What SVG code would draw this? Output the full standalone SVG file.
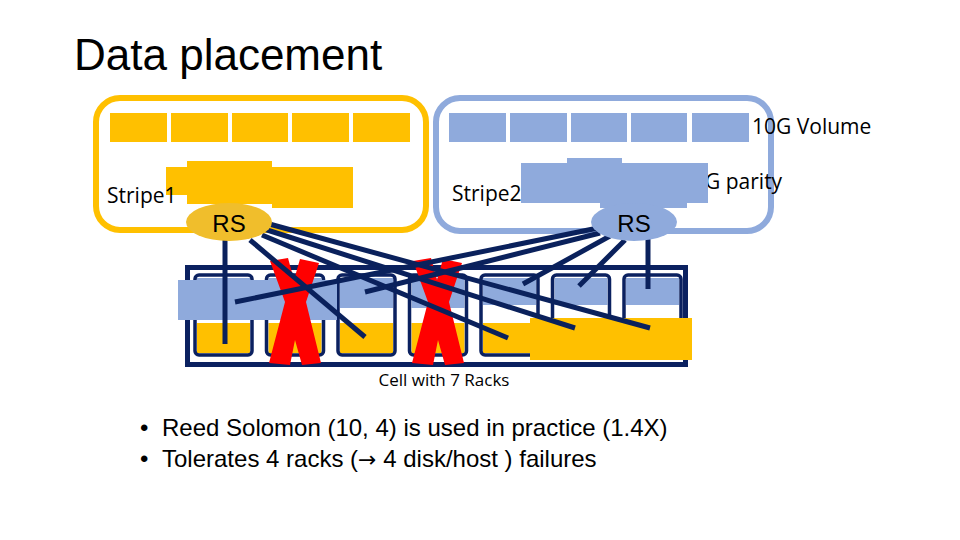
<svg xmlns="http://www.w3.org/2000/svg" width="960" height="540" viewBox="0 0 960 540">
<defs>
<style>
.ybk{fill:#FFC000}
.bbk{fill:#8FAADC}
.lbl{font-family:"Open Sans","Noto Sans",sans-serif;fill:#000}
.rs{font-family:"Liberation Sans",Arial,sans-serif;font-size:24px;fill:#000;text-anchor:middle}
.rack{fill:none;stroke:#0B2160;stroke-width:3.5}
.ln{stroke:#0A215C;stroke-width:5;fill:none}
.x{fill:#FF0000}
.blt{font-family:"Liberation Sans",Arial,sans-serif;font-size:24px;fill:#000}
</style>
<polygon id="xshape" points="270,261 288,258 294,280 300,259 319,263 306,302 321,363 302,365 295,340 290,365 269,363 285,302"/>
</defs>
<rect width="960" height="540" fill="#fff"/>
<text x="74" y="70" font-family="Liberation Sans,Arial,sans-serif" font-size="44" fill="#000">Data placement</text>

<g id="stripe1">
<rect x="96" y="98" width="330" height="132" rx="24" fill="none" stroke="#FFC000" stroke-width="6"/>
<rect class="ybk" x="110" y="113" width="57" height="29"/>
<rect class="ybk" x="171" y="113" width="57" height="29"/>
<rect class="ybk" x="232" y="113" width="56" height="29"/>
<rect class="ybk" x="292" y="113" width="57" height="29"/>
<rect class="ybk" x="353" y="113" width="57" height="29"/>
<rect class="ybk" x="166" y="167" width="30" height="28"/>
<rect class="ybk" x="187" y="161" width="85" height="43"/>
<rect class="ybk" x="272" y="167" width="81" height="41"/>
<text class="lbl" x="107" y="203" font-size="21">Stripe1</text>
</g>

<g id="stripe2">
<rect x="436" y="98" width="335" height="133" rx="24" fill="none" stroke="#8FAADC" stroke-width="6"/>
<rect class="bbk" x="449" y="113" width="57" height="29"/>
<rect class="bbk" x="510" y="113" width="57" height="29"/>
<rect class="bbk" x="571" y="113" width="56" height="29"/>
<rect class="bbk" x="631" y="113" width="56" height="29"/>
<rect class="bbk" x="692" y="113" width="57" height="29"/>
<text class="lbl" x="752" y="134" font-size="21">10G Volume</text>
<text class="lbl" x="681" y="189" font-size="21">10G parity</text>
<rect class="bbk" x="521" y="163" width="187" height="40"/>
<rect class="bbk" x="567" y="158" width="55" height="10"/>
<rect class="bbk" x="600" y="200" width="87" height="8"/>
<text class="lbl" x="452" y="201" font-size="21">Stripe2</text>
</g>

<g id="cell">
<rect x="187.5" y="267.5" width="498" height="97" fill="#fff" stroke="#0B2160" stroke-width="5"/>
<g id="rack1"><rect class="bbk" x="197" y="278" width="53" height="30"/><rect class="ybk" x="197" y="323" width="53" height="30"/><rect class="rack" x="195" y="275" width="57" height="80" rx="4"/></g>
<g id="rack2"><rect class="bbk" x="268.5" y="278" width="53" height="30"/><rect class="ybk" x="268.5" y="323" width="53" height="30"/><rect class="rack" x="266.5" y="275" width="57" height="80" rx="4"/></g>
<g id="rack3"><rect class="bbk" x="340" y="278" width="53" height="30"/><rect class="ybk" x="340" y="323" width="53" height="30"/><rect class="rack" x="338" y="275" width="57" height="80" rx="4"/></g>
<g id="rack4"><rect class="bbk" x="411.5" y="278" width="53" height="30"/><rect class="ybk" x="411.5" y="323" width="53" height="30"/><rect class="rack" x="409.5" y="275" width="57" height="80" rx="4"/></g>
<g id="rack5"><rect class="bbk" x="483" y="278" width="53" height="27"/><rect class="ybk" x="483" y="323" width="53" height="30"/><rect class="rack" x="481" y="275" width="57" height="80" rx="4"/></g>
<g id="rack6"><rect class="bbk" x="554.5" y="278" width="53" height="27"/><rect class="ybk" x="554.5" y="323" width="53" height="30"/><rect class="rack" x="552.5" y="275" width="57" height="80" rx="4"/></g>
<g id="rack7"><rect class="bbk" x="626" y="278" width="53" height="27"/><rect class="ybk" x="626" y="323" width="53" height="30"/><rect class="rack" x="624" y="275" width="57" height="80" rx="4"/></g>
<rect class="bbk" x="178" y="280" width="159" height="40"/>
<rect class="ybk" x="530" y="318" width="162" height="42"/>
<text class="lbl" x="444" y="386" font-size="17" text-anchor="middle">Cell with 7 Racks</text>
</g>

<g id="failures">
<use href="#xshape" class="x"/>
<use href="#xshape" class="x" transform="translate(143,0)"/>
</g>

<g id="connectors">
<line class="ln" x1="225" y1="238" x2="225" y2="344"/>
<line class="ln" x1="262" y1="222" x2="650" y2="328"/>
<line class="ln" x1="264" y1="229" x2="575" y2="328"/>
<line class="ln" x1="262" y1="235" x2="508" y2="338"/>
<line class="ln" x1="250" y1="240" x2="365" y2="337"/>
<line class="ln" x1="598" y1="228" x2="235" y2="302"/>
<line class="ln" x1="600" y1="233" x2="365" y2="292"/>
<line class="ln" x1="610" y1="236" x2="523" y2="284"/>
<line class="ln" x1="625" y1="240" x2="579" y2="286"/>
<line class="ln" x1="648" y1="238" x2="648" y2="289"/>
</g>

<g id="rs1">
<ellipse cx="229" cy="222" rx="43" ry="19" fill="#F0BE2C"/>
<text class="rs" x="229" y="232">RS</text>
</g>
<g id="rs2">
<ellipse cx="634" cy="222" rx="43" ry="19" fill="#8FAADC"/>
<text class="rs" x="634" y="232">RS</text>
</g>

<g id="bullets">
<text class="blt" x="140" y="436">•</text>
<text class="blt" x="162" y="436">Reed Solomon (10, 4) is used in practice (1.4X)</text>
<text class="blt" x="140" y="467">•</text>
<text class="blt" x="162" y="467">Tolerates 4 racks (<tspan font-family="DejaVu Sans,sans-serif" font-size="22">→</tspan> 4 disk/host ) failures</text>
</g>
</svg>
